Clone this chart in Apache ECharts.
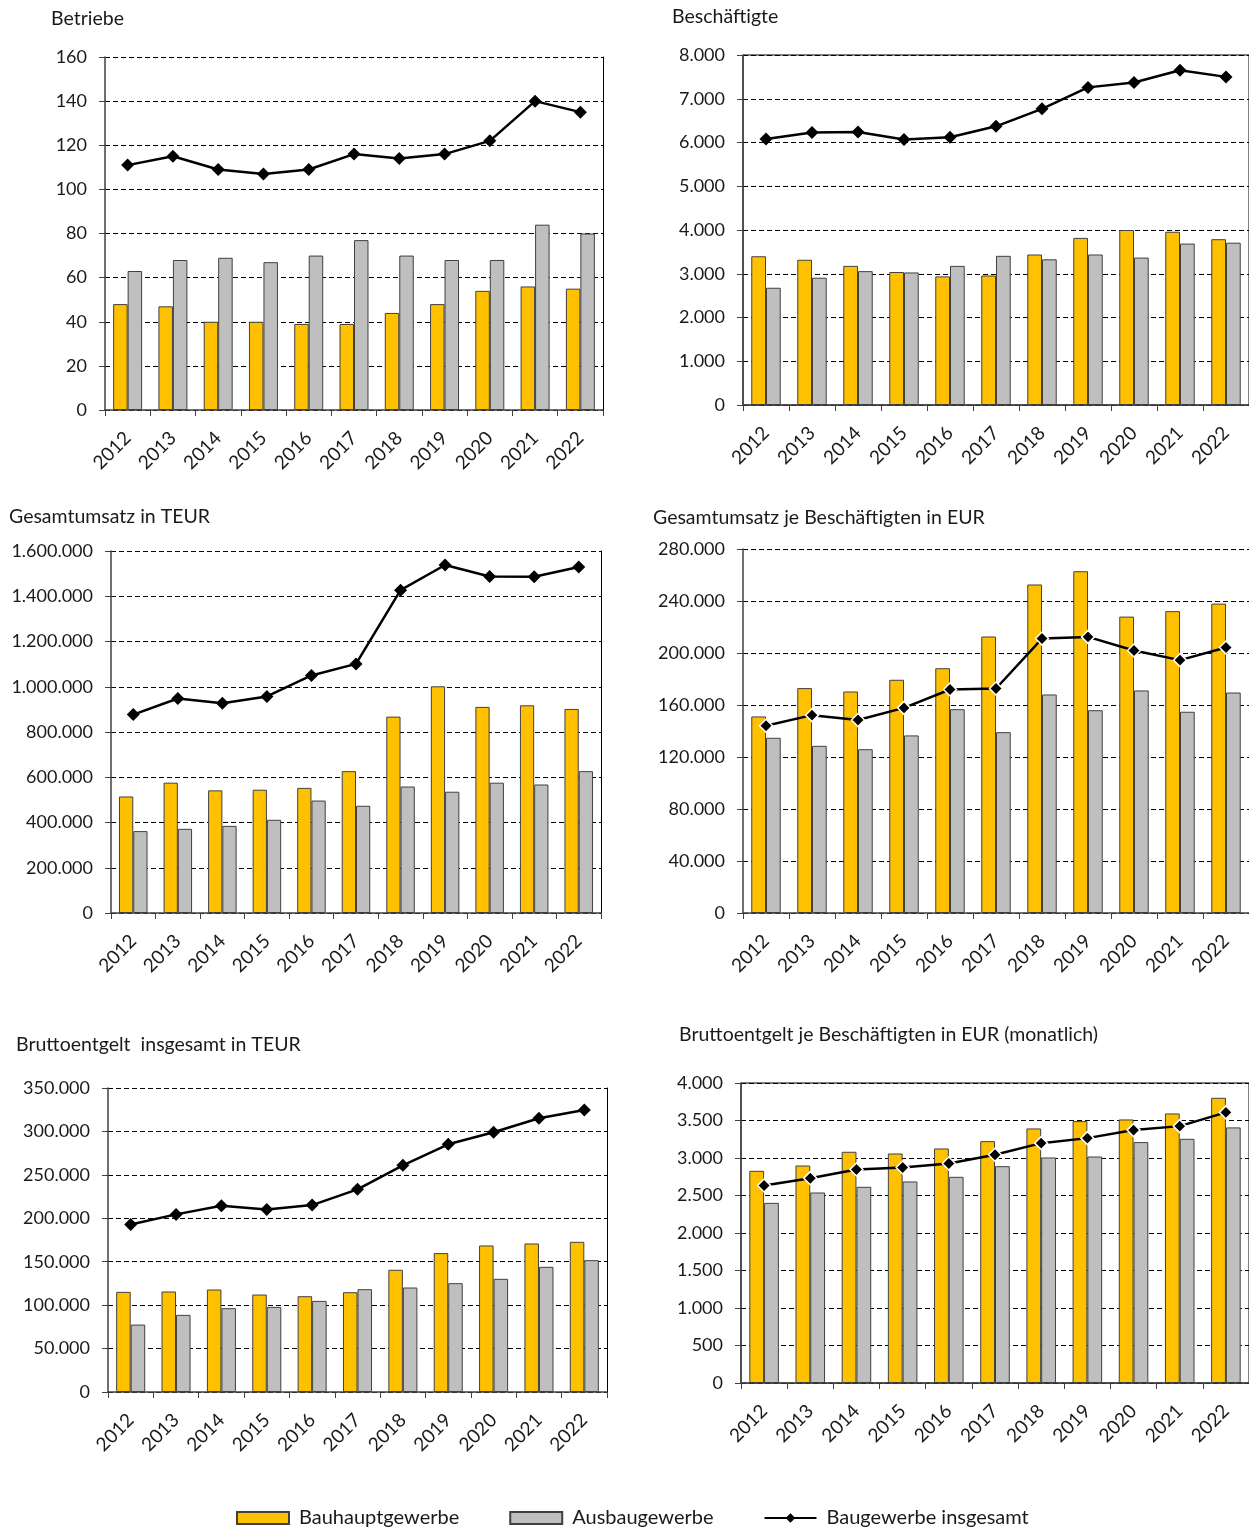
<!DOCTYPE html>
<html><head><meta charset="utf-8">
<script src="https://cdn.jsdelivr.net/npm/echarts@6/dist/echarts.min.js"></script>
<style>html,body{margin:0;padding:0;background:#fff}#c{width:1249px;height:1528px}</style>
</head><body><div id="c"></div>
<script>
const years = ['2012','2013','2014','2015','2016','2017','2018','2019','2020','2021','2022'];
const seriesNames = ['Bauhauptgewerbe','Ausbaugewerbe','Baugewerbe insgesamt'];
const titles = ['Betriebe','Beschäftigte','Gesamtumsatz in TEUR','Gesamtumsatz je Beschäftigten in EUR','Bruttoentgelt  insgesamt in TEUR','Bruttoentgelt je Beschäftigten in EUR (monatlich)'];

// Betriebe
const betriebeHaupt = [48,47,40,40,39,39,44,48,54,56,55];
const betriebeAusbau = [63,68,69,67,70,77,70,68,68,84,80];
const betriebeGesamt = [111,115,109,107,109,116,114,116,122,140,135];
// Beschäftigte
const beschHaupt = [3400,3320,3180,3040,2940,2960,3440,3820,4000,3960,3790];
const beschAusbau = [2680,2910,3060,3030,3180,3410,3330,3440,3370,3690,3710];
const beschGesamt = [6080,6230,6240,6070,6120,6370,6770,7260,7370,7650,7500];
// Gesamtumsatz in TEUR
const umsatzHaupt = [515000,576000,542000,545000,553000,627000,868000,1002000,911000,918000,902000];
const umsatzAusbau = [362000,372000,385000,412000,497000,474000,559000,536000,576000,568000,627000];
const umsatzGesamt = [877000,948000,927000,957000,1050000,1101000,1427000,1538000,1487000,1486000,1529000];
// Gesamtumsatz je Beschäftigten in EUR
const ujbHaupt = [151200,173000,170400,179400,188300,212700,252700,262900,228000,232200,238000];
const ujbAusbau = [134800,128600,126000,136600,156800,139100,168100,156000,171200,154800,169600];
const ujbGesamt = [144000,152200,148400,157800,171900,172700,211100,212400,201900,194500,204200];
// Bruttoentgelt insgesamt in TEUR
const bruttoHaupt = [115300,115700,118000,112200,110300,114900,140700,159900,168700,171000,172900];
const bruttoAusbau = [77600,88800,96500,98000,104900,118400,120300,125300,130300,144100,151800];
const bruttoGesamt = [192900,204500,214500,210200,215200,233300,261000,285200,299000,315100,324700];
// Bruttoentgelt je Beschäftigten in EUR (monatlich)
const bjbHaupt = [2829,2900,3083,3060,3127,3225,3394,3492,3514,3594,3803];
const bjbAusbau = [2402,2540,2616,2687,2749,2891,3007,3020,3212,3256,3408];
const bjbGesamt = [2633,2731,2847,2874,2927,3043,3198,3265,3372,3425,3608];

const yMax = [160,8000,1600000,280000,350000,4000];
const yInterval = [20,1000,200000,40000,50000,500];

const panels = [
  [betriebeHaupt,betriebeAusbau,betriebeGesamt],
  [beschHaupt,beschAusbau,beschGesamt],
  [umsatzHaupt,umsatzAusbau,umsatzGesamt],
  [ujbHaupt,ujbAusbau,ujbGesamt],
  [bruttoHaupt,bruttoAusbau,bruttoGesamt],
  [bjbHaupt,bjbAusbau,bjbGesamt]
];

// layout (pixels)
const grids = [
  {left:105, top:57,  width:498, height:353},
  {left:743, top:55,  width:512, height:350},
  {left:111, top:551, width:490, height:362},
  {left:743, top:549, width:512, height:364},
  {left:108, top:1088,width:499, height:304},
  {left:741, top:1083,width:514, height:300}
];
const titlePos = [[51,9],[672,7],[9,507],[653,508],[16,1035],[679,1025]];
const solidTop = [false,true,false,false,false,true];
const whiteMarker = [false,false,false,true,false,true];

const FONT = 'Lato';
function fmt(v){ return String(v).replace(/\B(?=(\d{3})+(?!\d))/g,'.'); }

const option = {
  animation:false,
  backgroundColor:'#fff',
  textStyle:{fontFamily:FONT},
  title: titles.map((t,i)=>({text:t,left:titlePos[i][0],top:titlePos[i][1],padding:0,
    textStyle:{fontFamily:FONT,fontSize:19.5,fontWeight:'normal',color:'#1a1a1a'}})),
  legend:{
    left:236, top:1508, padding:0, itemWidth:52, itemHeight:12, itemGap:50,
    data:[{name:seriesNames[0],icon:'rect'},{name:seriesNames[1],icon:'rect'},{name:seriesNames[2]}],
    textStyle:{fontFamily:FONT,fontSize:20,color:'#1a1a1a',padding:[0,0,0,5]}
  },
  grid: grids.map((g,i)=>Object.assign({containLabel:false, show:solidTop[i], borderColor:'#000', borderWidth:1},g)),
  xAxis: grids.map((g,i)=>({
    type:'category', gridIndex:i, data:years, boundaryGap:true,
    axisLine:{show:true,lineStyle:{color:'#404040',width:1.5}},
    axisTick:{show:true,interval:0,length:6,lineStyle:{color:'#404040'}},
    axisLabel:{rotate:45,interval:0,margin:25,fontFamily:FONT,fontSize:19,color:'#1a1a1a'}
  })),
  yAxis: [].concat(
    grids.map((g,i)=>({
      type:'value', gridIndex:i, min:0, max:yMax[i], interval:yInterval[i],
      axisLine:{show:true,lineStyle:{color:'#404040',width:1.5}},
      axisTick:{show:true,length:6,lineStyle:{color:'#404040'}},
      splitLine:{show:true,lineStyle:{color:'#000',type:[5,3],width:1}},
      axisLabel:{margin:18,fontFamily:FONT,fontSize:18,color:'#1a1a1a',formatter:fmt}
    })),
    grids.map((g,i)=>({
      type:'value', gridIndex:i, position:'right', min:0, max:yMax[i], interval:yInterval[i],
      axisLine:{show:true,lineStyle:{color:'#000',width:1}},
      axisTick:{show:false}, splitLine:{show:false}, axisLabel:{show:false}
    }))
  ),
  series: []
};

panels.forEach((p,i)=>{
  option.series.push({
    name:seriesNames[0], type:'bar', xAxisIndex:i, yAxisIndex:i, data:p[0],
    barWidth:'32%', barGap:'0%',
    itemStyle:{color:'#FFC000',borderColor:'#404040',borderWidth:1}
  });
  option.series.push({
    name:seriesNames[1], type:'bar', xAxisIndex:i, yAxisIndex:i, data:p[1],
    barWidth:'32%', barGap:'0%',
    itemStyle:{color:'#BFBFBF',borderColor:'#404040',borderWidth:1}
  });
  option.series.push({
    name:seriesNames[2], type:'line', xAxisIndex:i, yAxisIndex:i, data:p[2],
    symbol:'diamond', symbolSize:13, z:5,
    lineStyle:{color:'#000',width:2.5},
    itemStyle:{color:'#000',borderColor:whiteMarker[i]?'#fff':'#000',borderWidth:whiteMarker[i]?1.5:0}
  });
});

const chart = echarts.init(document.getElementById('c'),null,{renderer:'canvas'});
chart.setOption(option);
</script>
</body></html>
